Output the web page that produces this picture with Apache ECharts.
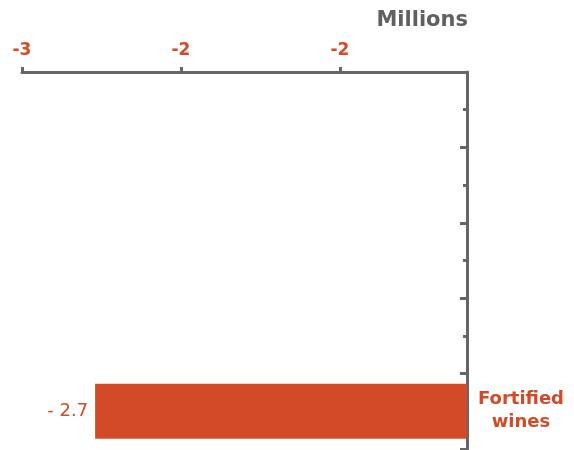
<!DOCTYPE html>
<html><head><meta charset="utf-8">
<script src="https://cdn.jsdelivr.net/npm/echarts@6/dist/echarts.min.js"></script>
<style>html,body{margin:0;padding:0;background:#fff}#c{width:574px;height:450px}</style>
</head><body><div id="c"></div>
<script>
const categories = ['Fortified wines', '', '', '', ''];
const values = [-2.77, null, null, null, null];
const xMin = -3, xMax = -1.6, xInterval = 0.5;
const unitLabel = 'Millions';

const red = '#D24A27';
const grey = '#666666';
const FF = '"DejaVu Sans", Verdana, sans-serif';
const chart = echarts.init(document.getElementById('c'));
chart.setOption({
  animation: false,
  title: { text: unitLabel, right: 101, top: 5, textStyle: { fontFamily: FF, fontWeight: 'bold', fontSize: 21, color: '#606060' } },
  grid: { left: 22, right: 107, top: 72, height: 377, containLabel: false },
  xAxis: {
    type: 'value', position: 'top', min: xMin, max: xMax, interval: xInterval,
    axisLine: { show: true, lineStyle: { color: grey, width: 3 } },
    axisTick: { show: true, length: 5, lineStyle: { color: grey, width: 3 } },
    splitLine: { show: false },
    axisLabel: { margin: 13, color: red, fontWeight: 'bold', fontSize: 17, fontFamily: FF, formatter: v => String(Math.round(v)), showMaxLabel: false }
  },
  yAxis: [{
    type: 'category', position: 'right', data: categories,
    axisLine: { show: true, onZero: false, lineStyle: { color: grey, width: 3 } },
    axisTick: { show: true, inside: true, length: 7, lineStyle: { color: grey, width: 3 } },
    axisLabel: { margin: 54, align: 'center', color: red, fontWeight: 'bold', fontSize: 18, lineHeight: 23, padding: [4, 0, 0, 0], fontFamily: FF, formatter: v => v.replace(' ', '\n') }
  }, {
    type: 'category', position: 'right', data: categories,
    axisLine: { show: false },
    axisTick: { show: true, inside: true, alignWithLabel: true, length: 4, lineStyle: { color: grey, width: 3 } },
    axisLabel: { show: false }
  }],
  series: [{
    type: 'bar', data: values, yAxisIndex: 0, barWidth: 55,
    itemStyle: { color: red },
    label: { show: true, position: 'left', distance: 7, color: red, fontSize: 18, fontFamily: FF,
      formatter: p => '- ' + (Math.trunc(Math.abs(p.value) * 10) / 10).toFixed(1) }
  }]
});
</script></body></html>
